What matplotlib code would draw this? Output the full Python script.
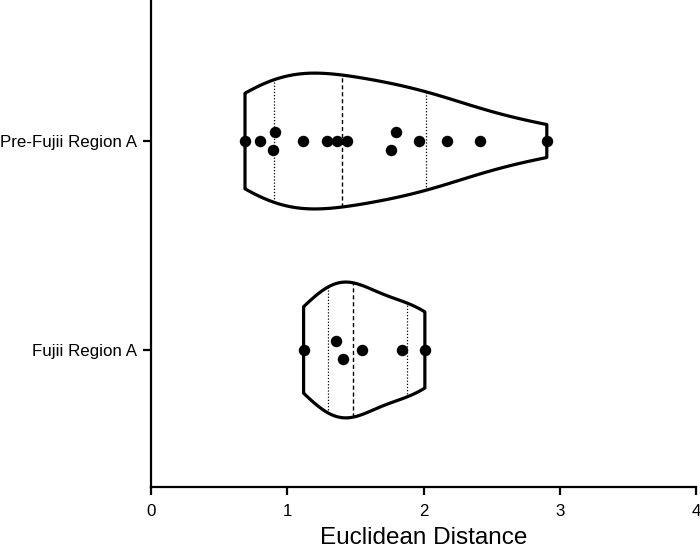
import numpy as np
import matplotlib
matplotlib.use("Agg")
import matplotlib.pyplot as plt

plt.rcParams['font.family'] = ['Liberation Sans', 'DejaVu Sans']

categories = ["Fujii Region A", "Pre-Fujii Region A"]
fujii_values = [1.12, 1.36, 1.41, 1.55, 1.84, 2.01]
prefujii_values = [0.69, 0.80, 0.91, 0.895, 1.115, 1.29, 1.365, 1.44,
                   1.80, 1.76, 1.97, 2.17, 2.415, 2.905]
series = [fujii_values, prefujii_values]
x_ticks = [0, 1, 2, 3, 4]

fig = plt.figure(figsize=(7, 5.5), dpi=100)
ax = fig.add_axes([0.2157, 0.1145, 0.7786, 0.8855])

HALF = 0.325


def kde(vals, grid):
    v = np.asarray(vals)
    bw = v.std(ddof=1) * len(v) ** (-0.2)
    d = np.exp(-0.5 * ((grid[:, None] - v[None, :]) / bw) ** 2).sum(axis=1)
    return d


def quartiles(vals):
    v = np.sort(np.asarray(vals))
    n = len(v)
    out = []
    for p in (0.25, 0.5, 0.75):
        pos = p * (n + 1) - 1
        lo = int(np.floor(pos))
        frac = pos - lo
        out.append(v[lo] + frac * (v[min(lo + 1, n - 1)] - v[lo]))
    return out


for i, vals in enumerate(series):
    v = np.asarray(vals)
    grid = np.linspace(v.min(), v.max(), 300)
    d = kde(v, grid)
    w = d / d.max() * HALF
    xs = np.concatenate([grid, grid[::-1], grid[:1]])
    ys = np.concatenate([i + w, i - w[::-1], [i + w[0]]])
    ax.fill(xs, ys, facecolor='white', edgecolor='black', lw=2.3, zorder=2,
            joinstyle='round')
    q1, med, q3 = quartiles(v)
    for q, ls in ((q1, (0, (1, 1.5))), (med, (0, (3, 2))), (q3, (0, (1, 1.5)))):
        wq = np.interp(q, grid, w)
        ax.plot([q, q], [i - wq, i + wq], color='black', lw=0.9 if ls[1][0] == 1 else 1.0,
                linestyle=ls, zorder=3)
    # simple swarm: pair overlapping points vertically
    offs = np.zeros(len(v))
    thr = 0.066
    used = np.zeros(len(v), bool)
    for a in range(len(v)):
        if used[a]:
            continue
        for b in range(a + 1, len(v)):
            if not used[b] and abs(v[b] - v[a]) < thr:
                offs[a] = 0.045
                offs[b] = -0.045
                used[a] = used[b] = True
                break
    ax.scatter(v, i + offs, s=68, color='black', zorder=4, linewidths=0)

ax.set_xlim(0, 4)
ax.set_ylim(-0.656, 1.675)
ax.set_xticks(x_ticks)
ax.set_xticklabels([str(t) for t in x_ticks])
ax.set_yticks([0, 1])
ax.set_yticklabels(categories)
ax.spines['top'].set_visible(False)
ax.spines['right'].set_visible(False)
for s in ('left', 'bottom'):
    ax.spines[s].set_linewidth(1.6)
ax.tick_params(axis='both', length=6, width=1.6, labelsize=12.2, pad=4)
ax.tick_params(axis='x', pad=6)
ax.set_xlabel("Euclidean Distance", fontsize=17.5, labelpad=6)

fig.savefig("out.png", dpi=100)
